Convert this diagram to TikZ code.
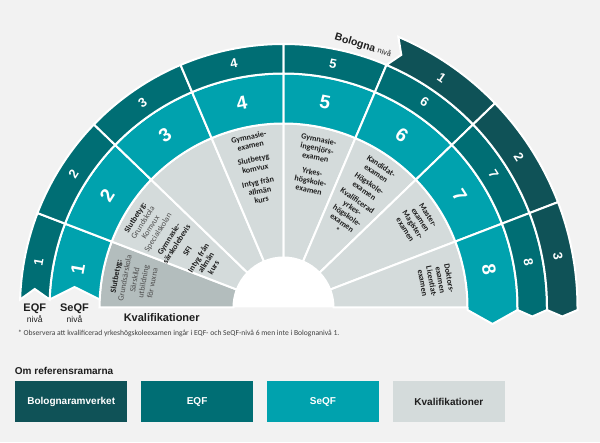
\documentclass[tikz,border=0pt]{standalone}
\usepackage{fontspec}
\setmainfont{Liberation Sans}
\newfontfamily\qualfont{Carlito}
\usepackage{tikz}
\usetikzlibrary{positioning}

\definecolor{bgcol}{HTML}{F2F2F2}
\definecolor{bolo}{HTML}{0F5257}
\definecolor{eqf}{HTML}{006E74}
\definecolor{seqf}{HTML}{00A2AE}
\definecolor{kval}{HTML}{D4DBDB}
\definecolor{kvaldark}{HTML}{B3BDBD}
\definecolor{ink}{HTML}{1E1E1E}
\definecolor{inksub}{HTML}{4F4F4F}

\newcommand{\lite}[1]{\textmd{\textcolor{inksub}{#1}}}

\begin{document}
\begin{tikzpicture}[
  x=1pt, y=1pt,
  seg/.style={draw=white, line width=2pt},
  ringnum/.style={text=white, inner sep=0pt, font=\bfseries\fontsize{13}{13}\selectfont},
  bignum/.style={ringnum, font=\bfseries\fontsize{19}{19}\selectfont},
  qual/.style={text=ink, inner sep=0pt, align=center,
               font=\qualfont\bfseries\fontsize{8.1}{9}\selectfont},
  lvl/.style={text=ink, inner sep=0pt, font=\bfseries\fontsize{11}{12}\selectfont},
  lvlsub/.style={text=ink, inner sep=0pt, font=\fontsize{8.5}{9}\selectfont},
  note/.style={text=ink!85, inner sep=0pt, font=\qualfont\fontsize{7.6}{8}\selectfont},
  legend/.style={minimum width=112.5pt, minimum height=41pt, inner sep=0pt,
                 text=white, font=\bfseries\fontsize{10}{12}\selectfont}
]
\fill[bgcol] (0,0) rectangle (600,442);
\useasboundingbox (0,0) rectangle (600,442);

\begin{scope}[shift={(283.5,134.5)}]
% Kvalifikationer
\filldraw[seg, fill=kvaldark] (180:184) arc[start angle=180, end angle=159, radius=184]
  -- (159:50) arc[start angle=159, end angle=180, radius=50] -- cycle;
\foreach \a/\b in {159/136, 136/113, 113/90, 90/67, 67/44, 44/21, 21/0}
  \filldraw[seg, fill=kval] (\a:184) arc[start angle=\a, end angle=\b, radius=184]
    -- (\b:50) arc[start angle=\b, end angle=\a, radius=50] -- cycle;
\fill[white] (0:50) arc[start angle=0, end angle=180, radius=50] -- cycle;

% SeQF
\filldraw[seg, fill=seqf] (159:234) arc[start angle=159, end angle=178.04, radius=234]
  -- (-209,20.5) -- (177.51:184) arc[start angle=177.51, end angle=159, radius=184] -- cycle;
\foreach \a/\b in {159/136, 136/113, 113/90, 90/67, 67/44, 44/21}
  \filldraw[seg, fill=seqf] (\a:234) arc[start angle=\a, end angle=\b, radius=234]
    -- (\b:184) arc[start angle=\b, end angle=\a, radius=184] -- cycle;
\filldraw[seg, fill=seqf] (21:234) arc[start angle=21, end angle=0, radius=234]
  -- (234,-2.5) -- (209,-16.5) -- (184,-2.5) -- (0:184)
  arc[start angle=0, end angle=21, radius=184] -- cycle;

% EQF
\filldraw[seg, fill=eqf] (159:263.5) arc[start angle=159, end angle=178.26, radius=263.5]
  -- (-248.75,18.5) -- (178.04:234) arc[start angle=178.04, end angle=159, radius=234] -- cycle;
\foreach \a/\b in {159/136, 136/113, 113/90, 90/67, 67/44, 44/21}
  \filldraw[seg, fill=eqf] (\a:263.5) arc[start angle=\a, end angle=\b, radius=263.5]
    -- (\b:234) arc[start angle=\b, end angle=\a, radius=234] -- cycle;
\filldraw[seg, fill=eqf] (21:263.5) arc[start angle=21, end angle=0, radius=263.5]
  -- (263.5,-2.5) -- (248.75,-9) -- (234,-2.5) -- (0:234)
  arc[start angle=0, end angle=21, radius=234] -- cycle;

% Bologna
\filldraw[seg, fill=bolo] (67:294) arc[start angle=67, end angle=44, radius=294]
  -- (44:263.5) arc[start angle=44, end angle=67, radius=263.5] -- (65:278.75) -- cycle;
\filldraw[seg, fill=bolo] (44:294) arc[start angle=44, end angle=21, radius=294]
  -- (21:263.5) arc[start angle=21, end angle=44, radius=263.5] -- cycle;
\filldraw[seg, fill=bolo] (21:294) arc[start angle=21, end angle=0, radius=294]
  -- (294,-2.5) -- (278.75,-9) -- (263.5,-2.5) -- (0:263.5)
  arc[start angle=0, end angle=21, radius=263.5] -- cycle;

% Nivåer
\foreach \n/\m in {1/169.5, 2/147.5, 3/124.5, 4/101.5, 5/78.5, 6/55.5, 7/32.5, 8/10.5}{
  \node[bignum, rotate=\m-90] (seqf\n) at (\m:209) {\n};
  \node[ringnum, rotate=\m-90] (eqf\n) at (\m:249) {\n};
}
\foreach \n/\m in {1/55.5, 2/32.5, 3/10.5}
  \node[ringnum, rotate=\m-90] (bolo\n) at (\m:279) {\n};

\node[lvl, font=\bfseries\fontsize{10.5}{12}\selectfont, rotate=-17] (bolniva) at (73.1:273.5)
  {Bologna {\mdseries\fontsize{7.5}{8}\selectfont nivå}};

% Kvalifikationer per nivå
\node[qual, rotate=79.5] (q1) at (169.5:152)
  {Slutbetyg:\\\lite{Grundsärskola}\\[1pt]\lite{Särskild}\\\lite{utbildning}\\\lite{för vuxna}};
\node[qual, rotate=57.5] (q2) at (149.3:127)
  {Slutbetyg:\\\lite{Grundskola}\\\lite{Komvux}\\\lite{Specialskolan}\\[4pt]
   Gymnasie-\\särskolebevis\\[4pt]SFI\\[4pt]Intyg från\\allmän\\kurs};
\node[qual, rotate=11.5] (q4) at (101.5:142)
  {Gymnasie-\\examen\\[5pt]Slutbetyg\\komvux\\[5pt]Intyg från\\allmän\\kurs};
\node[qual, rotate=-11.5] (q5) at (78:146)
  {Gymnasie-\\ingenjörs-\\examen\\[6pt]Yrkes-\\högskole-\\examen};
\node[qual, rotate=-34.5] (q6) at (55.3:133)
  {Kandidat-\\examen\\[3pt]Högskole-\\examen\\[3pt]Kvalificerad\\yrkes-\\högskole-\\examen\\*};
\node[qual, rotate=-57.5] (q7) at (32.6:158) {Master-\\examen\\Magister-\\examen};
\node[qual, rotate=-79.5] (q8) at (10:155) {Doktors-\\examen\\Licentiat-\\examen};

% Etiketter under ringarna
\coordinate (eqfend) at (-248.75,8);
\coordinate (seqfend) at (-209,8);
\node[lvl, below=4pt of eqfend] (eqflbl) {EQF};
\node[lvlsub, below=2pt of eqflbl] (eqfniva) {nivå};
\node[lvl, below=4pt of seqfend] (seqflbl) {SeQF};
\node[lvlsub, below=2pt of seqflbl] (seqfniva) {nivå};
\node[lvl] (kvallbl) at (-121.8,-10.5) {Kvalifikationer};
\end{scope}

% Fotnot
\node[note, anchor=west] (fotnot) at (18,108.7)
  {* Observera att kvalificerad yrkeshögskoleexamen ingår i EQF- och SeQF-nivå 6 men inte i Bolognanivå 1.};

% Om referensramarna
\node[legend, fill=bolo] (lbolo) at (71.2,40.4) {Bolognaramverket};
\node[legend, fill=eqf, right=13pt of lbolo] (leqf) {EQF};
\node[legend, fill=seqf, right=13pt of leqf] (lseqf) {SeQF};
\node[legend, fill=kval, text=ink, right=13pt of lseqf] (lkval) {Kvalifikationer};
\node[lvl, font=\bfseries\fontsize{10}{12}\selectfont, above right=6pt and 0pt of lbolo.north west] (omref)
  {Om referensramarna};
\end{tikzpicture}
\end{document}
